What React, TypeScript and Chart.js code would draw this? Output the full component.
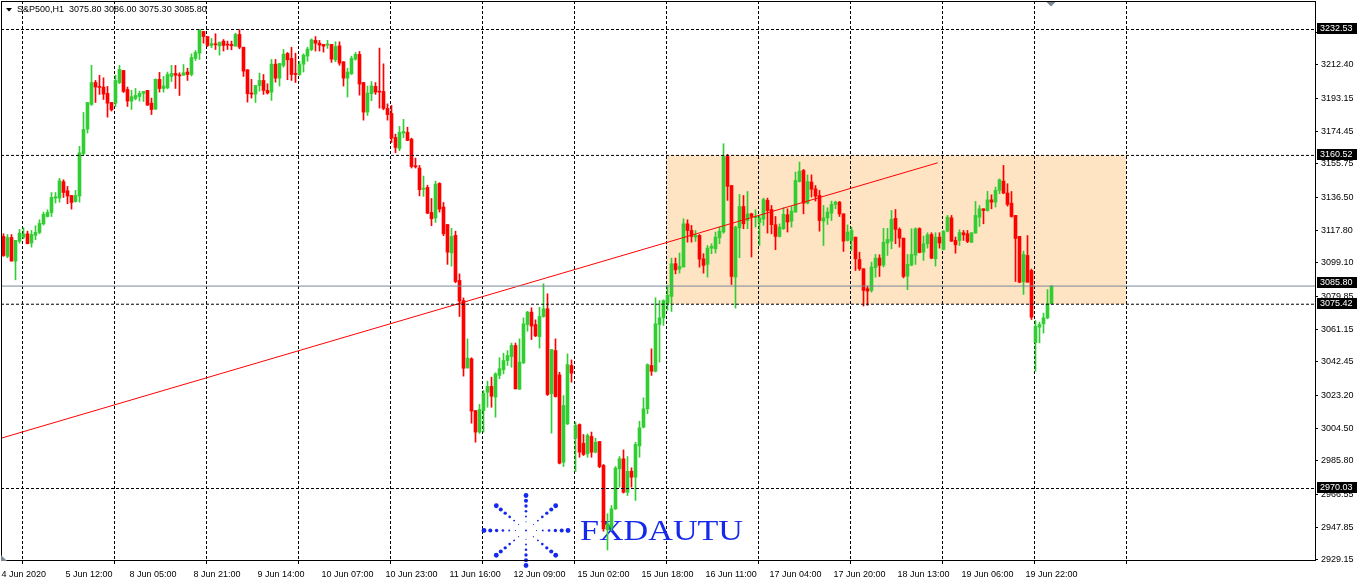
import React, { useEffect, useRef } from "react";
import { Chart, registerables } from "chart.js";

Chart.register(...registerables);

const FONT = "'Liberation Sans', Arial, sans-serif";

// ---- OHLC data (S&P500, H1) ----
const opens = [
  3114.2, 3102.8, 3113.6, 3100.1, 3111.5, 3113.8, 3115.7, 3110.4, 3114.8, 3116.5,
  3121.4, 3125.6, 3127.9, 3136.1, 3136.1, 3145.5, 3140.3, 3137.6, 3134.2, 3137.3,
  3161.6, 3175.6, 3189.7, 3202.2, 3200.0, 3199.6, 3196.0, 3190.8, 3190.4, 3202.2,
  3209.1, 3198.2, 3191.6, 3193.1, 3194.2, 3196.0, 3197.7, 3190.4, 3187.0, 3204.0,
  3198.8, 3199.2, 3205.7, 3207.4, 3206.6, 3206.4, 3208.2, 3206.8, 3216.0, 3219.0,
  3231.4, 3228.5, 3223.4, 3224.2, 3223.2, 3225.9, 3224.0, 3224.0, 3223.0, 3229.7,
  3222.4, 3209.5, 3196.2, 3195.6, 3200.5, 3203.4, 3197.7, 3196.7, 3212.7, 3204.7,
  3212.0, 3218.8, 3216.0, 3207.4, 3206.8, 3212.7, 3217.3, 3221.1, 3226.3, 3224.7,
  3224.0, 3223.6, 3224.0, 3215.2, 3223.2, 3214.1, 3204.7, 3207.2, 3215.6, 3218.3,
  3202.2, 3185.3, 3195.8, 3200.0, 3197.3, 3197.1, 3187.4, 3184.5, 3170.8, 3164.5,
  3173.3, 3173.7, 3169.8, 3154.6, 3153.3, 3141.2, 3142.2, 3127.9, 3124.7, 3144.5,
  3131.0, 3121.0, 3104.8, 3114.8, 3089.0, 3077.5, 3039.0, 3044.2, 3014.6, 3002.3,
  3014.6, 3025.1, 3028.4, 3022.3, 3034.7, 3037.9, 3043.2, 3045.5, 3051.8, 3026.8,
  3041.9, 3063.8, 3070.9, 3063.8, 3056.9, 3068.4, 3072.8, 3024.2, 3048.9, 3035.0,
  2985.1, 3007.0, 3040.4, 2998.8, 3006.6, 2995.9, 2989.9, 2999.8, 2990.8, 2996.9,
  2983.2, 2946.4, 2947.9, 2958.4, 2981.3, 2987.0, 2967.9, 2979.9, 2976.5, 2994.4,
  3005.1, 3015.6, 3040.4, 3037.1, 3063.8, 3067.6, 3076.1, 3079.9, 3098.6, 3095.5,
  3096.7, 3121.4, 3117.6, 3113.8, 3114.8, 3101.4, 3098.2, 3107.5, 3107.1, 3113.4,
  3116.7, 3159.9, 3143.3, 3090.9, 3119.1, 3131.3, 3123.3, 3127.1, 3124.9, 3122.2,
  3124.1, 3134.8, 3129.6, 3120.9, 3114.2, 3118.6, 3126.6, 3122.9, 3128.1, 3145.6,
  3151.9, 3133.2, 3145.3, 3141.4, 3137.6, 3122.9, 3124.8, 3127.5, 3132.5, 3133.8,
  3127.1, 3111.9, 3111.9, 3113.8, 3101.0, 3095.7, 3084.3, 3083.3, 3096.3, 3101.8,
  3097.8, 3110.4, 3111.5, 3124.5, 3118.2, 3113.2, 3091.5, 3097.8, 3103.5, 3118.7,
  3105.2, 3110.0, 3115.3, 3101.4, 3113.8, 3106.7, 3117.2, 3124.8, 3111.9, 3111.9,
  3116.3, 3115.7, 3110.9, 3116.1, 3125.2, 3130.0, 3129.0, 3135.1, 3133.8, 3140.5,
  3145.8, 3139.0, 3133.2, 3126.2, 3114.2, 3088.2, 3103.3, 3094.7, 3053.5, 3062.3,
  3064.2, 3067.6, 3075.8,
];
const highs = [
  3115.7, 3115.3, 3115.3, 3111.9, 3118.2, 3119.2, 3117.2, 3117.6, 3120.3, 3123.7,
  3128.1, 3129.4, 3139.3, 3139.3, 3147.4, 3146.6, 3142.8, 3137.6, 3140.5, 3165.7,
  3185.1, 3190.8, 3212.0, 3203.4, 3206.3, 3204.9, 3200.0, 3190.8, 3206.4, 3212.0,
  3209.1, 3199.6, 3197.7, 3198.8, 3197.3, 3197.1, 3197.7, 3193.3, 3204.3, 3208.0,
  3205.7, 3208.2, 3212.0, 3212.0, 3207.8, 3212.5, 3210.4, 3218.6, 3220.5, 3232.4,
  3231.4, 3228.5, 3227.4, 3230.1, 3225.5, 3226.8, 3225.9, 3225.9, 3230.4, 3232.4,
  3222.4, 3209.5, 3204.0, 3200.5, 3207.6, 3206.8, 3201.5, 3215.4, 3215.4, 3213.1,
  3221.1, 3219.4, 3222.4, 3219.0, 3214.3, 3218.6, 3222.4, 3227.2, 3228.5, 3226.3,
  3224.0, 3226.3, 3224.0, 3225.5, 3225.5, 3214.1, 3210.4, 3217.3, 3219.4, 3220.0,
  3202.2, 3200.2, 3202.8, 3202.2, 3221.9, 3212.9, 3190.0, 3189.1, 3172.7, 3177.1,
  3181.1, 3176.7, 3170.4, 3159.0, 3154.8, 3148.7, 3143.5, 3135.9, 3145.8, 3144.9,
  3133.6, 3121.0, 3118.8, 3117.2, 3092.8, 3079.0, 3055.6, 3044.8, 3014.6, 3018.1,
  3026.1, 3031.4, 3033.7, 3036.2, 3044.8, 3047.4, 3048.9, 3053.2, 3053.2, 3055.6,
  3067.6, 3071.4, 3073.4, 3066.5, 3073.7, 3087.1, 3081.4, 3049.5, 3055.6, 3036.5,
  3023.2, 3047.0, 3043.6, 3008.0, 3007.0, 3000.9, 3001.3, 3002.3, 2998.8, 2996.9,
  2983.8, 2955.6, 2960.3, 2982.6, 2988.3, 2992.1, 2988.3, 2981.9, 2996.5, 3008.5,
  3021.9, 3041.3, 3049.9, 3079.1, 3077.5, 3077.9, 3086.2, 3101.8, 3101.8, 3104.7,
  3124.3, 3123.7, 3120.5, 3117.6, 3115.3, 3104.3, 3109.0, 3110.0, 3116.7, 3119.5,
  3167.2, 3161.1, 3143.3, 3120.1, 3138.2, 3137.6, 3139.9, 3127.5, 3129.4, 3126.2,
  3136.1, 3136.1, 3131.9, 3125.6, 3121.4, 3130.6, 3130.0, 3131.3, 3151.0, 3156.7,
  3152.5, 3149.4, 3149.4, 3143.3, 3140.5, 3131.9, 3130.6, 3134.4, 3134.4, 3134.2,
  3127.1, 3120.8, 3119.5, 3113.8, 3105.2, 3095.7, 3085.8, 3099.5, 3103.9, 3103.7,
  3118.8, 3118.8, 3129.0, 3129.6, 3119.1, 3113.2, 3103.9, 3118.6, 3119.1, 3119.1,
  3114.4, 3116.3, 3116.3, 3116.3, 3116.3, 3117.6, 3126.2, 3126.2, 3113.8, 3118.0,
  3117.6, 3117.6, 3116.3, 3134.2, 3131.9, 3130.0, 3140.0, 3138.0, 3142.4, 3147.1,
  3154.8, 3144.3, 3139.9, 3126.2, 3114.2, 3105.8, 3114.7, 3095.5, 3066.1, 3065.2,
  3070.3, 3083.8, 3086.0,
];
const lows = [
  3102.8, 3102.0, 3100.1, 3089.4, 3110.4, 3112.9, 3110.0, 3108.1, 3112.3, 3115.7,
  3120.7, 3125.3, 3125.6, 3133.3, 3133.8, 3136.5, 3132.9, 3129.8, 3133.8, 3133.8,
  3160.9, 3173.3, 3189.1, 3190.8, 3195.4, 3192.5, 3182.4, 3185.9, 3188.5, 3201.5,
  3196.5, 3188.5, 3186.8, 3192.3, 3191.6, 3191.4, 3189.1, 3183.9, 3186.8, 3196.7,
  3196.7, 3198.6, 3202.8, 3198.8, 3194.8, 3206.3, 3203.4, 3205.9, 3214.8, 3215.4,
  3224.7, 3222.8, 3222.1, 3221.1, 3217.9, 3220.2, 3221.1, 3220.9, 3223.0, 3221.5,
  3205.7, 3191.0, 3193.3, 3190.8, 3197.3, 3195.4, 3195.6, 3192.0, 3202.4, 3200.2,
  3211.0, 3203.8, 3203.4, 3202.2, 3206.3, 3208.2, 3214.4, 3220.4, 3220.2, 3220.2,
  3219.6, 3221.7, 3213.7, 3214.1, 3212.1, 3200.2, 3193.9, 3206.8, 3215.0, 3195.0,
  3180.7, 3183.4, 3191.8, 3195.4, 3187.6, 3186.6, 3180.7, 3167.9, 3162.0, 3163.2,
  3170.6, 3168.9, 3153.3, 3153.3, 3137.4, 3137.1, 3127.2, 3120.3, 3122.2, 3128.1,
  3114.6, 3098.2, 3097.2, 3087.7, 3068.4, 3034.3, 3038.8, 3007.4, 2996.5, 3001.5,
  3002.3, 3016.5, 3016.5, 3010.8, 3032.8, 3035.6, 3040.4, 3039.4, 3027.0, 3026.8,
  3041.5, 3060.0, 3055.2, 3056.9, 3050.3, 3068.0, 3023.2, 3001.7, 3022.3, 2984.1,
  2982.6, 3006.6, 3030.8, 2979.8, 2987.9, 2988.9, 2987.9, 2987.9, 2990.4, 2981.9,
  2945.6, 2934.9, 2946.0, 2958.0, 2970.8, 2967.4, 2966.0, 2970.8, 2963.2, 2987.9,
  3004.7, 3012.8, 3034.7, 3036.7, 3042.3, 3063.3, 3071.9, 3071.3, 3092.8, 3093.2,
  3096.7, 3110.9, 3110.9, 3111.3, 3096.6, 3093.2, 3090.9, 3104.3, 3104.7, 3110.0,
  3116.0, 3134.8, 3086.7, 3073.2, 3102.0, 3118.6, 3118.6, 3102.4, 3119.5, 3109.0,
  3120.5, 3116.1, 3115.7, 3106.6, 3113.8, 3118.2, 3116.7, 3119.5, 3128.1, 3145.3,
  3127.1, 3132.8, 3136.7, 3134.4, 3117.2, 3109.0, 3121.0, 3123.3, 3130.0, 3125.6,
  3105.6, 3111.5, 3106.2, 3094.7, 3094.7, 3074.4, 3074.8, 3082.3, 3090.9, 3091.3,
  3096.7, 3103.3, 3107.1, 3110.0, 3108.1, 3090.5, 3083.7, 3097.4, 3098.2, 3104.8,
  3100.5, 3107.5, 3101.4, 3097.2, 3107.5, 3106.5, 3116.8, 3111.3, 3104.6, 3109.0,
  3111.9, 3110.6, 3110.6, 3116.1, 3119.9, 3121.4, 3128.6, 3130.0, 3131.0, 3138.6,
  3138.6, 3131.5, 3125.2, 3088.4, 3087.7, 3081.0, 3088.0, 3066.7, 3037.1, 3053.3,
  3058.9, 3067.1, 3075.3,
];
const closes = [
  3103.3, 3113.6, 3100.1, 3111.9, 3116.1, 3115.5, 3110.0, 3115.3, 3116.5, 3121.6,
  3126.8, 3127.9, 3136.5, 3136.9, 3146.0, 3139.3, 3137.3, 3133.6, 3137.6, 3162.0,
  3175.4, 3190.8, 3202.2, 3199.6, 3199.4, 3195.6, 3190.4, 3186.6, 3203.4, 3209.7,
  3197.1, 3191.6, 3194.1, 3194.8, 3196.0, 3197.1, 3189.3, 3186.8, 3204.0, 3198.8,
  3200.2, 3206.8, 3207.4, 3206.4, 3206.0, 3207.8, 3206.8, 3216.5, 3219.4, 3232.4,
  3228.5, 3223.4, 3224.5, 3223.8, 3225.1, 3223.4, 3223.6, 3223.2, 3229.7, 3222.4,
  3208.7, 3195.8, 3195.6, 3200.5, 3203.4, 3197.7, 3196.2, 3212.7, 3204.7, 3213.1,
  3218.4, 3215.2, 3206.8, 3206.8, 3212.5, 3217.9, 3221.3, 3226.6, 3224.7, 3223.6,
  3223.0, 3224.0, 3215.6, 3222.8, 3213.3, 3204.7, 3208.2, 3216.0, 3218.3, 3201.3,
  3185.3, 3196.2, 3200.3, 3196.7, 3196.7, 3187.4, 3183.9, 3170.4, 3165.1, 3173.7,
  3174.2, 3169.1, 3154.2, 3154.0, 3140.9, 3141.8, 3127.5, 3124.3, 3144.1, 3129.8,
  3115.7, 3105.2, 3114.2, 3088.4, 3077.2, 3038.8, 3044.6, 3014.3, 3002.3, 3015.2,
  3024.5, 3028.4, 3022.8, 3035.6, 3038.5, 3043.2, 3046.1, 3051.8, 3027.0, 3042.3,
  3064.2, 3070.9, 3062.9, 3057.3, 3068.4, 3072.8, 3023.8, 3049.5, 3022.6, 2984.5,
  3017.5, 3040.9, 3036.0, 3006.1, 2990.8, 2989.5, 3000.4, 2990.8, 2996.5, 2982.6,
  2947.0, 2949.8, 2958.4, 2981.7, 2987.0, 2967.9, 2979.9, 2976.5, 2995.2, 3004.7,
  3015.6, 3040.9, 3037.1, 3064.2, 3067.6, 3077.5, 3080.5, 3098.6, 3095.1, 3097.0,
  3121.4, 3117.6, 3114.2, 3114.8, 3101.2, 3097.6, 3107.5, 3108.5, 3113.8, 3117.2,
  3159.9, 3142.8, 3091.3, 3119.5, 3131.3, 3121.4, 3127.1, 3125.6, 3125.6, 3124.7,
  3135.3, 3129.0, 3120.9, 3114.2, 3119.5, 3126.8, 3122.4, 3128.7, 3146.2, 3151.5,
  3133.2, 3145.6, 3141.2, 3137.2, 3123.3, 3124.8, 3128.1, 3132.5, 3133.8, 3127.1,
  3111.5, 3116.7, 3117.6, 3101.4, 3095.7, 3083.3, 3082.9, 3096.7, 3101.8, 3097.6,
  3110.8, 3112.5, 3123.9, 3118.2, 3113.2, 3091.3, 3098.2, 3103.9, 3118.6, 3105.0,
  3110.0, 3115.1, 3101.8, 3113.8, 3110.4, 3117.0, 3125.2, 3111.5, 3109.4, 3116.4,
  3115.1, 3111.3, 3116.3, 3126.2, 3130.0, 3129.0, 3135.1, 3133.8, 3140.5, 3146.6,
  3139.0, 3132.5, 3125.6, 3113.0, 3088.0, 3103.9, 3088.0, 3068.0, 3062.7, 3063.8,
  3067.6, 3075.6, 3085.8,
];

// ---- time axis ----
const timeLabels = [
  "4 Jun 2020", "5 Jun 12:00", "8 Jun 05:00", "8 Jun 21:00", "9 Jun 14:00",
  "10 Jun 07:00", "10 Jun 23:00", "11 Jun 16:00", "12 Jun 09:00", "15 Jun 02:00",
  "15 Jun 18:00", "16 Jun 11:00", "17 Jun 04:00", "17 Jun 20:00", "18 Jun 13:00",
  "19 Jun 06:00", "19 Jun 22:00",
];
const timeLabelBars = [0, 16, 32, 48, 64, 80, 96, 112, 128, 144, 160, 176, 192, 208, 224, 240, 256];
const dayGridBars = [4.75, 27.75, 50.75, 73.75, 96.75, 119.75, 142.75, 165.75, 188.75, 211.75, 234.75, 257.75, 280.75];

// ---- price axis ----
const priceTicks = [
  3231.10, 3212.40, 3193.15, 3174.45, 3155.75, 3136.50, 3117.80, 3099.10, 3079.85,
  3061.15, 3042.45, 3023.20, 3004.50, 2985.80, 2966.55, 2947.85, 2929.15,
];

// ---- drawn objects ----
const levelPrices = [3232.53, 3160.52, 3075.42, 2970.03];
const bidPrice = 3085.8;
const trendBars = [-0.875, 233.55];
const trendPrices = [2998.6, 3156.3];
const zoneBars = [165.625, 280.625];
const zonePrices = [3075.42, 3160.52];
const titleText = "S&P500,H1  3075.80 3086.00 3075.30 3085.80";
const logoText = "FXDAUTU";

const X_MIN = -0.625;
const X_MAX = 327.875;
const Y_MIN = 2929.14;
const Y_MAX = 3248.83;

const UP = "#32CD32";
const DOWN = "#FF0000";
const LOGO_BLUE = "rgb(22,40,235)";

const zeroPadding = (scale: any) => {
  scale.paddingLeft = 0;
  scale.paddingRight = 0;
  scale.paddingTop = 0;
  scale.paddingBottom = 0;
};

const decorPlugin = {
  id: "decor",
  beforeDraw(chart: any) {
    const { ctx, scales } = chart;
    const x = scales.x, y = scales.y;
    const x0 = x.getPixelForValue(zoneBars[0]);
    const x1 = x.getPixelForValue(zoneBars[1]);
    const y0 = y.getPixelForValue(zonePrices[1]);
    const y1 = y.getPixelForValue(zonePrices[0]);
    ctx.save();
    ctx.fillStyle = "#FFE4C4";
    ctx.fillRect(Math.round(x0), Math.round(y0), Math.round(x1 - x0), Math.round(y1 - y0));
    ctx.restore();
  },
  beforeDatasetsDraw(chart: any) {
    const { ctx } = chart;
    ctx.save();
    const cx = 526, cy = 530.5;
    ctx.fillStyle = LOGO_BLUE;
    for (let k = 0; k < 8; k++) {
      const a = (k * Math.PI) / 4;
      for (let j = 0; j < 6; j++) {
        const t = 1 - j * 0.15;
        const r = Math.max(2.4 - j * 0.36, 0.6);
        ctx.beginPath();
        ctx.arc(cx + 42 * t * Math.cos(a), cy + 35 * t * Math.sin(a), r, 0, Math.PI * 2);
        ctx.fill();
      }
    }
    ctx.beginPath();
    ctx.arc(cx, cy, 1, 0, Math.PI * 2);
    ctx.fill();
    ctx.font = "30px 'Liberation Serif', 'Times New Roman', serif";
    ctx.textBaseline = "alphabetic";
    ctx.textAlign = "left";
    const w = ctx.measureText(logoText).width;
    ctx.translate(580, 540);
    ctx.scale(163 / w, 1);
    ctx.fillText(logoText, 0, 0);
    ctx.restore();
  },
  afterDraw(chart: any) {
    const { ctx, chartArea, scales } = chart;
    const y = scales.y;
    ctx.save();
    ctx.strokeStyle = "#000";
    ctx.lineWidth = 1;
    ctx.strokeRect(chartArea.left + 0.5, chartArea.top + 0.5, chartArea.right - chartArea.left, chartArea.bottom - chartArea.top);
    ctx.font = `9px ${FONT}`;
    ctx.textBaseline = "middle";
    ctx.textAlign = "left";
    const box = (p: number, dy: number) => {
      const py = Math.floor(y.getPixelForValue(p));
      const top = py - dy;
      ctx.fillStyle = "#000";
      ctx.fillRect(chartArea.right + 2, top, 40, 11);
      ctx.fillStyle = "#fff";
      ctx.fillText(p.toFixed(2), chartArea.right + 5, top + 6);
    };
    levelPrices.forEach((p) => box(p, 6));
    box(bidPrice, 9);
    ctx.fillStyle = "#000";
    ctx.beginPath();
    ctx.moveTo(6, 8);
    ctx.lineTo(12, 8);
    ctx.lineTo(9, 11.5);
    ctx.closePath();
    ctx.fill();
    ctx.textBaseline = "alphabetic";
    ctx.fillText(titleText, 17, 12);
    ctx.fillStyle = "#7A8896";
    ctx.beginPath();
    ctx.moveTo(1046.5, 2);
    ctx.lineTo(1055.5, 2);
    ctx.lineTo(1051, 6.5);
    ctx.closePath();
    ctx.fill();
    ctx.beginPath();
    ctx.moveTo(1, 555);
    ctx.lineTo(1, 561);
    ctx.lineTo(7, 561);
    ctx.closePath();
    ctx.fill();
    ctx.restore();
  },
};

export default function App() {
  const ref = useRef<HTMLCanvasElement | null>(null);

  useEffect(() => {
    if (!ref.current) return;
    const idx = opens.map((_, i) => i);
    const colors = idx.map((i) => (closes[i] >= opens[i] ? UP : DOWN));
    const hline = (p: number, color: string, dash: number[]) => ({
      type: "line" as const,
      data: [{ x: X_MIN, y: p }, { x: X_MAX, y: p }],
      borderColor: color,
      borderWidth: 1,
      borderDash: dash,
      pointRadius: 0,
      order: 0,
    });
    const chart = new Chart(ref.current, {
      type: "bar",
      data: {
        datasets: [
          hline(bidPrice, "#778899", []),
          ...levelPrices.map((p) => hline(p, "#000", [3, 2])),
          {
            type: "line",
            data: [
              { x: trendBars[0], y: trendPrices[0] },
              { x: trendBars[1], y: trendPrices[1] },
            ],
            borderColor: DOWN,
            borderWidth: 1,
            pointRadius: 0,
            order: 0,
          } as any,
          {
            type: "bar",
            data: idx.map((i) => ({ x: i, y: [opens[i], closes[i]] })),
            backgroundColor: colors,
            barThickness: 3,
            minBarLength: 1,
            grouped: false,
            order: 1,
          } as any,
          {
            type: "bar",
            data: idx.map((i) => ({ x: i, y: [lows[i], highs[i]] })),
            backgroundColor: colors,
            barThickness: 1,
            grouped: false,
            order: 2,
          } as any,
        ],
      },
      options: {
        responsive: false,
        maintainAspectRatio: false,
        devicePixelRatio: 1,
        animation: false,
        events: [],
        layout: { autoPadding: false, padding: { top: 1, left: 1, right: 0, bottom: 0 } } as any,
        plugins: { legend: { display: false }, tooltip: { enabled: false }, title: { display: false } },
        scales: {
          x: {
            type: "linear",
            position: "bottom",
            min: X_MIN,
            max: X_MAX,
            offset: false,
            bounds: "data",
            afterBuildTicks: (scale: any) => {
              scale.ticks = [...dayGridBars, ...timeLabelBars].sort((a, b) => a - b).map((v) => ({ value: v }));
            },
            afterFit: (scale: any) => {
              scale.height = 22;
              zeroPadding(scale);
            },
            grid: {
              display: true,
              offset: false,
              drawOnChartArea: true,
              drawTicks: true,
              tickLength: 4,
              lineWidth: 1,
              color: (c: any) => (c.tick && dayGridBars.includes(c.tick.value) ? "#000" : "rgba(0,0,0,0)"),
              tickColor: (c: any) => (c.tick && dayGridBars.includes(c.tick.value) ? "#000" : "rgba(0,0,0,0)"),
            },
            border: { display: true, color: "#000", width: 1, dash: [3, 2] },
            ticks: {
              autoSkip: false,
              maxRotation: 0,
              minRotation: 0,
              align: "start",
              labelOffset: -2,
              padding: 5,
              color: "#000",
              font: { family: FONT, size: 9 },
              callback: (v: any) => {
                const k = timeLabelBars.indexOf(Number(v));
                return k >= 0 ? timeLabels[k] : "";
              },
            },
          } as any,
          y: {
            type: "linear",
            position: "right",
            min: Y_MIN,
            max: Y_MAX,
            bounds: "data",
            afterBuildTicks: (scale: any) => {
              scale.ticks = priceTicks.map((v) => ({ value: v }));
            },
            afterFit: (scale: any) => {
              scale.width = 46;
              zeroPadding(scale);
            },
            grid: {
              display: true,
              offset: false,
              drawOnChartArea: false,
              drawTicks: true,
              tickLength: 3,
              color: "#000",
              tickColor: "#000",
            },
            border: { display: true, color: "#000", width: 1 },
            ticks: {
              autoSkip: false,
              padding: 3,
              color: "#000",
              font: { family: FONT, size: 9 },
              callback: (v: any) => Number(v).toFixed(2),
            },
          } as any,
        },
      },
      plugins: [decorPlugin],
    });
    return () => chart.destroy();
  }, []);

  return (
    <div style={{ position: "absolute", left: 0, top: 0, width: 1361, height: 582, background: "#fff" }}>
      <canvas ref={ref} width={1361} height={582} style={{ display: "block", width: 1361, height: 582 }} />
    </div>
  );
}
